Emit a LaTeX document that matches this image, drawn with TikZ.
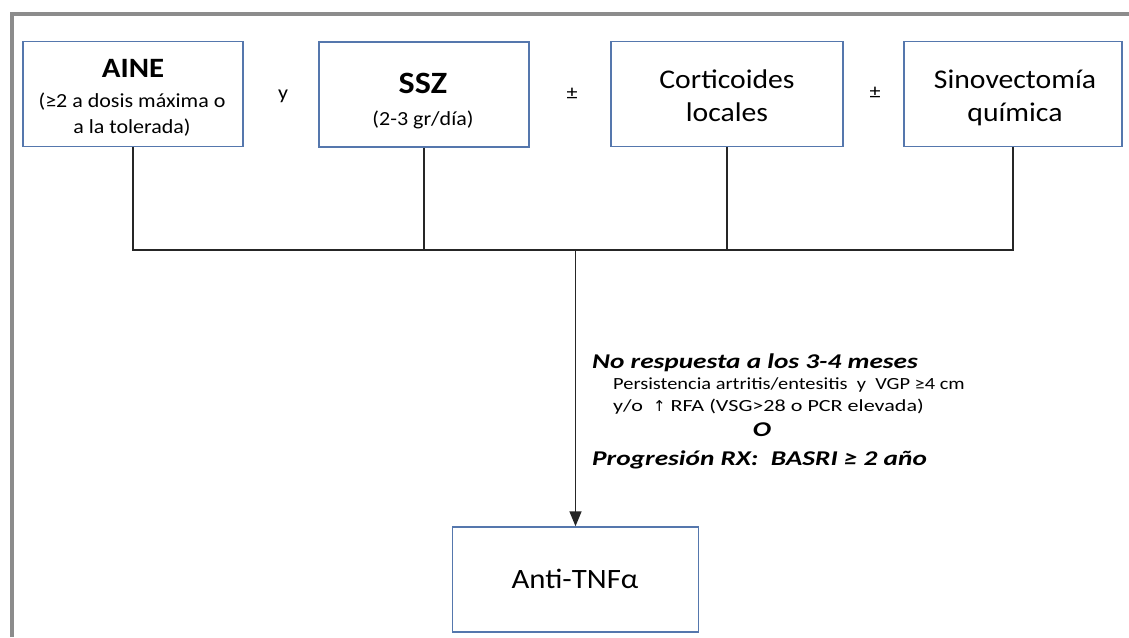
\documentclass[tikz,border=0pt]{standalone}
\usepackage{fontspec}
\setmainfont{Carlito}[FakeStretch=1.1]
\newfontfamily\midfont{Carlito}[FakeStretch=1.3]
\newfontfamily\smallfont{Carlito}[FakeStretch=1.2]
\newfontfamily\widefont{Carlito}[FakeStretch=1.3]
\newfontfamily\symfont{DejaVu Sans}
\usetikzlibrary{arrows.meta}
\definecolor{boxblue}{HTML}{5577AD}
\definecolor{framegray}{HTML}{8C8C8C}
\definecolor{linegray}{HTML}{262626}
\tikzset{
  tbox/.style={draw=boxblue, line width=1.5pt, fill=white, inner sep=0pt, minimum height=105pt},
  conn/.style={draw=linegray, line width=1.6pt},
  btext/.style={inner sep=0pt, anchor=base},
  plain/.style={inner sep=0pt, anchor=center},
  ltext/.style={inner sep=0pt, anchor=base west},
  title/.style={btext, font=\fontsize{28}{30}\selectfont\bfseries},
  sub/.style={btext, font=\fontsize{20}{24}\selectfont},
  label/.style={btext, font=\fontsize{27}{30}\selectfont},
  midb/.style={font=\midfont\fontsize{21}{24}\selectfont\bfseries\itshape},
  mids/.style={ltext, font=\smallfont\fontsize{17}{18}\selectfont},
}
\begin{document}
\begin{tikzpicture}[x=1pt,y=-1pt]
\useasboundingbox (0,0) rectangle (1129,637);
\fill[white] (0,0) rectangle (1129,637);
\draw[framegray, line width=3.5pt] (12,637) -- (12,14) -- (1129,14);

% boxes
\node[tbox, minimum width=220pt] (aine) at (133,94) {};
\node[tbox, minimum width=210pt] (ssz) at (424,94.5) {};
\node[tbox, minimum width=232pt] (cor) at (727,94) {};
\node[tbox, minimum width=218pt] (sin) at (1013,94) {};
\node[tbox, minimum width=246pt] (tnf) at (575.5,579.5) {};

% box texts
\node[title] (aine1) at (133,77) {AINE};
\node[sub] (aine2) at (132,107) {(≥2 a dosis máxima o};
\node[sub] (aine3) at (132,133) {a la tolerada)};
\node[title, font=\fontsize{31}{33}\selectfont\bfseries] (ssz1) at (423,93) {SSZ};
\node[sub] (ssz2) at (423,125) {(2-3 gr/día)};
\node[label] (cor1) at (727,88) {Corticoides};
\node[label] (cor2) at (727,121) {locales};
\node[label] (sin1) at (1015,88) {Sinovectomía};
\node[label] (sin2) at (1015,121) {química};
\node[label, font=\fontsize{28}{30}\selectfont] (tnf1) at (575,588) {Anti-TNFα};

% operators
\node[btext, font=\fontsize{20}{22}\selectfont] (y1) at (283,99) {y};
\node[plain, font=\fontsize{20}{22}\selectfont] (pm1) at (572,94) {±};
\node[plain, font=\fontsize{20}{22}\selectfont] (pm2) at (875,93) {±};

% connectors
\coordinate (j) at (575.5,250);
\draw[conn] (aine.south) -- (aine.south |- j) -- (sin.south |- j) -- (sin.south);
\draw[conn] (ssz.south) -- (ssz.south |- j);
\draw[conn] (cor.south) -- (cor.south |- j);
\draw[conn, -{Triangle[width=12pt,length=15pt]}] (j) -- (tnf.north);

% middle text
\node[ltext, midb] (t1) at (592,368) {No respuesta a los 3-4 meses};
\node[mids] (t2) at (613,389) {Persistencia artritis/entesitis\ \ y\ \ VGP ≥4 cm};
\node[mids, font=\widefont\fontsize{17}{18}\selectfont] (t3) at (613,411) {y/o\ \ {\symfont\fontsize{15}{16}\selectfont ↑} RFA (VSG>28 o PCR elevada)};
\node[btext, midb] (t4) at (762,436) {O};
\node[ltext, midb] (t5) at (592,465) {Progresión RX:\ \ BASRI ≥ 2 año};
\end{tikzpicture}
\end{document}
